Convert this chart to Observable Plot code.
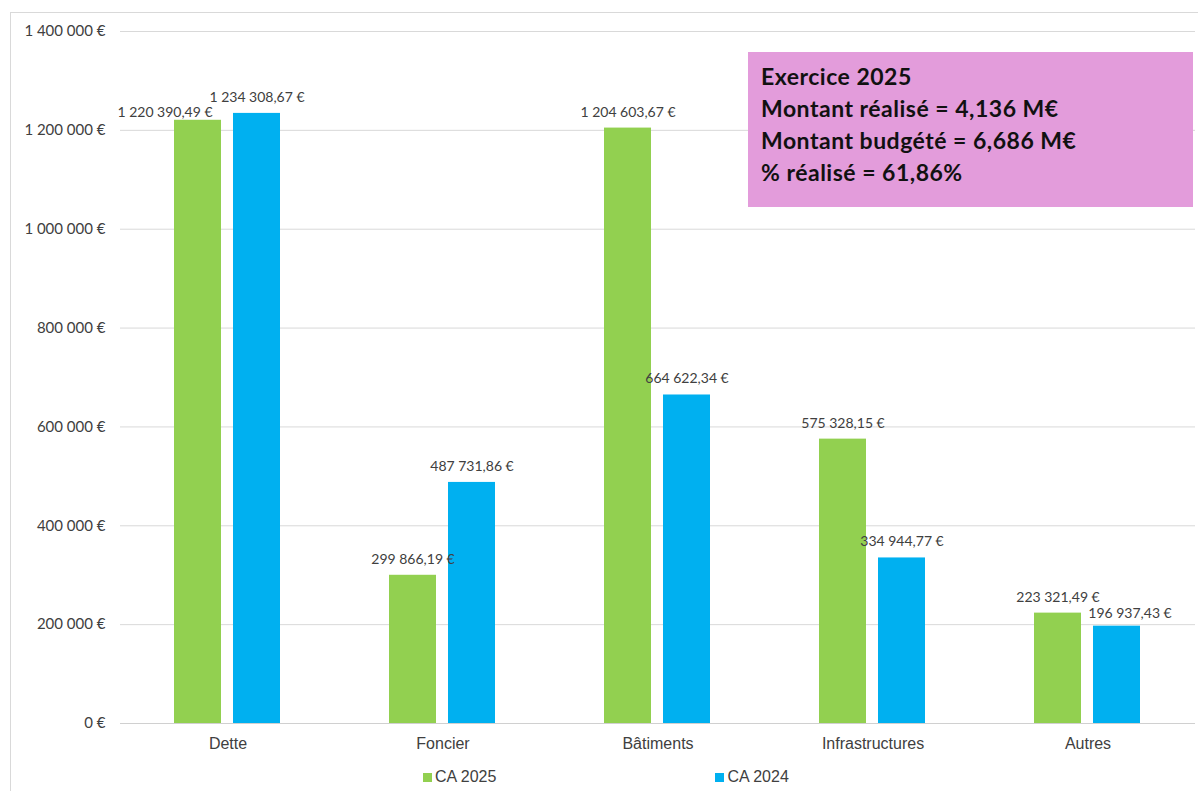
<!DOCTYPE html>
<html lang="fr">
<head>
<meta charset="utf-8">
<script src="https://cdn.jsdelivr.net/npm/d3@7"></script>
<script src="https://cdn.jsdelivr.net/npm/@observablehq/plot@0.6"></script>
<style>
  html, body { margin: 0; padding: 0; background: #fff; overflow: hidden; }
  body { position: relative; width: 1198px; height: 791px; }
  #frame { position: absolute; left: 10px; top: 12px; width: 1200px; height: 800px;
           border: 1px solid #d9d9d9; box-sizing: border-box; }
  #chart { position: absolute; left: 0; top: 0; }
  #summary { position: absolute; left: 748px; top: 52px; width: 445px; height: 155px;
             box-sizing: border-box; padding: 8px 13px; background: #e39cdb;
             font-family: Lato, sans-serif; font-weight: bold; font-size: 23px;
             letter-spacing: 0.5px; line-height: 32px; color: #111; }
  #legend { position: absolute; left: 423px; top: 768px; display: flex; gap: 219px;
            font-family: "Liberation Sans", Arial, sans-serif; font-size: 16px; color: #404040; }
  #legend .item { display: flex; align-items: center; gap: 3px; }
  #legend .sw { width: 9px; height: 9px; display: inline-block; }
</style>
</head>
<body>
<div id="frame"></div>
<div id="chart"></div>
<div id="summary"></div>
<div id="legend"></div>
<script>
// Dépenses d'investissement par poste
const categories = ["Dette", "Foncier", "Bâtiments", "Infrastructures", "Autres"];
const series = ["CA 2025", "CA 2024"];
const ca2025 = [1220390.49, 299866.19, 1204603.67, 575328.15, 223321.49];
const ca2024 = [1234308.67, 487731.86, 664622.34, 334944.77, 196937.43];
const yTicks = [0, 200000, 400000, 600000, 800000, 1000000, 1200000, 1400000];
const summaryLines = [
  "Exercice 2025",
  "Montant réalisé = 4,136 M€",
  "Montant budgété = 6,686 M€",
  "% réalisé = 61,86%"
];
const colors = ["#92d050", "#00b0f0"];

const locale = d3.formatLocale({decimal: ",", thousands: "\u00a0", grouping: [3], currency: ["", "\u00a0€"]});
const fmtInt = locale.format(",d");
const fmtDec = locale.format(",.2f");

const rows = categories.flatMap((c, i) => [
  {category: c, series: series[0], value: ca2025[i]},
  {category: c, series: series[1], value: ca2024[i]}
]);

// two labels sit slightly apart from their bars to avoid overlapping neighbours
const isDette25 = d => d.category === "Dette" && d.series === "CA 2025";
const isAutres24 = d => d.category === "Autres" && d.series === "CA 2024";
const labelOpts = {fx: "category", x: "series", y: "value", text: d => fmtDec(d.value) + "\u00a0€",
                   lineAnchor: "middle", fontSize: 14, fill: "#404040"};

const chart = Plot.plot({
  width: 1198,
  height: 760,
  marginLeft: 119,
  marginRight: 3,
  marginTop: 31,
  marginBottom: 37,
  style: {fontFamily: "Lato, sans-serif", fontSize: "14px", color: "#404040", background: "transparent"},
  fx: {domain: categories, padding: 0, label: null},
  x: {domain: series, paddingInner: 0.2, paddingOuter: 0.893, axis: null},
  y: {domain: [0, 1400000], label: null},
  color: {domain: series, range: colors},
  marks: [
    Plot.gridY(yTicks, {stroke: "#d9d9d9", strokeOpacity: 1}),
    Plot.ruleY([0], {stroke: "#d0d0d0"}),
    Plot.barY(rows, {fx: "category", x: "series", y: "value", fill: "series"}),
    Plot.text(rows.filter(d => !isDette25(d) && !isAutres24(d)), {...labelOpts, dy: -16}),
    Plot.text(rows.filter(isDette25), {...labelOpts, dx: -33, dy: -8}),
    Plot.text(rows.filter(isAutres24), {...labelOpts, dx: 13, dy: -13}),
    Plot.axisY({ticks: yTicks, tickSize: 0, tickPadding: 15, fontSize: 15,
                tickFormat: d => fmtInt(d) + "\u00a0€", label: null}),
    Plot.axisFx({anchor: "bottom", tickSize: 0, tickPadding: 14, label: null,
                 fontFamily: "Liberation Sans, Arial, sans-serif", fontSize: 16})
  ]
});
document.getElementById("chart").appendChild(chart);

const summary = document.getElementById("summary");
summaryLines.forEach(t => {
  const div = document.createElement("div");
  div.textContent = t;
  summary.appendChild(div);
});

const legend = document.getElementById("legend");
series.forEach((s, i) => {
  const item = document.createElement("span");
  item.className = "item";
  const sw = document.createElement("span");
  sw.className = "sw";
  sw.style.background = colors[i];
  const label = document.createElement("span");
  label.textContent = s;
  item.append(sw, label);
  legend.appendChild(item);
});
</script>
</body>
</html>
